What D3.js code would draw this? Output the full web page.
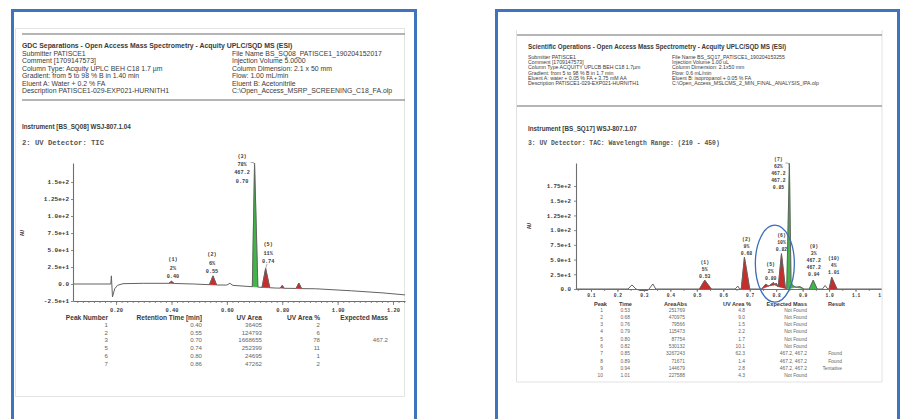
<!DOCTYPE html>
<html>
<head>
<meta charset="utf-8">
<script src="https://cdn.jsdelivr.net/npm/d3@7/dist/d3.min.js"></script>
<style>
  html, body { margin: 0; padding: 0; background: #ffffff; }
  svg { display: block; }
  .hdr  { font-family: "Liberation Sans", Arial, sans-serif; fill: #3a3a3a; }
  .bold { font-weight: bold; }
  .mono { font-family: "Liberation Mono", "Courier New", monospace; font-weight: bold; fill: #3a3a3a; }
  .tbl  { font-family: "Liberation Sans", Arial, sans-serif; fill: #666; }
  .tblh { font-family: "Liberation Sans", Arial, sans-serif; font-weight: bold; fill: #3a3a3a; }
</style>
</head>
<body>
<svg id="page" width="900" height="419"></svg>
<script>
// ===================== Report A : BS_SQ08, TIC =====================
const aTitle = "GDC Separations - Open Access Mass Spectrometry - Acquity UPLC/SQD MS (ESI)";
const aInfoLeft = [
  "Submitter PATISCE1",
  "Comment [1709147573]",
  "Column Type: Acquity UPLC BEH C18 1.7 \u00b5m",
  "Gradient: from 5 to 98 % B in 1.40 min",
  "Eluent A: Water + 0.2 % FA",
  "Description PATISCE1-029-EXP021-HURNITH1"
];
const aInfoRight = [
  "File Name BS_SQ08_PATISCE1_190204152017",
  "Injection Volume 5.0000",
  "Column Dimension: 2.1 x 50 mm",
  "Flow: 1.00 mL/min",
  "Eluent B: Acetonitrile",
  "C:\\Open_Access_MSRP_SCREENING_C18_FA.olp"
];
const aInstrument = "Instrument [BS_SQ08] WSJ-807.1.04";
const aDetector = "2: UV Detector: TIC";

// chromatogram trace (retention time [min], absorbance)
const aTraceTime = [0.044, 0.181, 0.183, 0.187, 0.195, 0.205, 0.225, 0.30, 0.39, 0.40, 0.41, 0.48,
                    0.537, 0.55, 0.563, 0.60, 0.611, 0.622, 0.692, 0.70, 0.712, 0.727, 0.74, 0.755,
                    0.78, 0.793, 0.80, 0.807, 0.85, 0.86, 0.87, 0.92, 1.05, 1.16, 1.243];
const aTraceAU   = [0, 0, 12, -19, -7, -2, 0.5, 1, 1, 4, 0.8, 0,
                    -1, 12, -1.5, -1.5, 1, -2, -4, 178, -4.5, -5, 23, -5.5,
                    -6, -6, -2, -6.3, -6.5, 1.5, -6.8, -7, -10, -13, -16];

// integrated peaks
const aPeakNumber = [1, 2, 3, 5, 6, 7];
const aPeakTime   = [0.40, 0.55, 0.70, 0.74, 0.80, 0.86];
const aPeakStart  = [0.39, 0.537, 0.692, 0.727, 0.793, 0.85];
const aPeakEnd    = [0.41, 0.563, 0.712, 0.755, 0.807, 0.87];
const aUVArea     = [36405, 124793, 1668655, 252399, 24695, 47262];
const aUVPct      = [2, 6, 78, 11, 1, 2];
const aExpMass    = ["", "", "467.2", "", "", ""];
const aLabelled   = [1, 2, 3, 5];

const aYTicks      = [-25, 0, 25, 50, 75, 100, 125, 150];
const aYTickLabels = ["-2.5e+1", "0.0", "2.5e+1", "5.0e+1", "7.5e+1", "1.0e+2", "1.25e+2", "1.5e+2"];
const aXTicks      = [0.2, 0.4, 0.6, 0.8, 1.0, 1.2];
const aXTickLabels = ["0.20", "0.40", "0.60", "0.80", "1.00", "1.20"];
const aTableHead   = ["Peak Number", "Retention Time [min]", "UV Area", "UV Area %", "Expected Mass"];

// ===================== Report B : BS_SQ17, TAC =====================
const bTitle = "Scientific Operations - Open Access Mass Spectrometry - Acquity UPLC/SQD MS (ESI)";
const bInfoLeft = [
  "Submitter PATISCE1",
  "Comment [1709147573]",
  "Column Type ACQUITY UPLCB BEH C18 1.7\u00b5m",
  "Gradient: from 5 to 98 % B in 1.7 min",
  "Eluent A: water + 0.05 % FA + 3.75 mM AA",
  "Description PATISCE1-029-EXP021-HURNITH1"
];
const bInfoRight = [
  "File Name BS_SQ17_PATISCE1_190204153255",
  "Injection Volume 1.00 uL",
  "Column Dimension: 2.1x50 mm",
  "Flow: 0.6 mL/min",
  "Eluent B: isopropanol + 0.05 % FA",
  "C:\\Open_Access_MSLCMS_2_MIN_FINAL_ANALYSIS_IPA.olp"
];
const bInstrument = "Instrument [BS_SQ17] WSJ-807.1.07";
const bDetector = "3: UV Detector: TAC: Wavelength Range: (210 - 450)";

const bTraceTime = [0.043, 0.24, 0.255, 0.27, 0.285, 0.315, 0.334, 0.345, 0.51, 0.53, 0.555,
                    0.645, 0.655, 0.662, 0.668, 0.68, 0.70, 0.745, 0.76, 0.772, 0.79, 0.795, 0.80,
                    0.808, 0.82, 0.835, 0.84, 0.85, 0.856, 0.862, 0.875, 0.89, 0.905, 0.925, 0.94,
                    0.955, 0.975, 0.985, 0.995, 1.0, 1.01, 1.03, 1.2];
const bTraceAU   = [0, 0, 7, 0, -2.5, -2.5, 8.5, 0, 0, 15, 0,
                    0, 5, 0, 0, 54, 0, 0, 8, 5, 11, 7, 10,
                    4, 60, 1, 0, 213, 12, 6, 3, 4, 0, 0, 15,
                    0, 0, 6, 0, 0, 20, 0, 0];

const bPeakNumber = [1, 2, 3, 4, 5, 6, 7, 8, 9, 10];
const bPeakTime   = [0.53, 0.68, 0.76, 0.79, 0.80, 0.82, 0.85, 0.89, 0.94, 1.01];
const bPeakStart  = [0.51, 0.668, 0.745, 0.772, 0.795, 0.808, 0.84, 0.875, 0.925, 1.0];
const bPeakEnd    = [0.555, 0.70, 0.772, 0.795, 0.808, 0.835, 0.875, 0.905, 0.955, 1.03];
const bAreaAbs    = [251769, 470975, 79566, 115473, 87754, 530132, 3267243, 71671, 144679, 227588];
const bUVPct      = [4.8, 9.0, 1.5, 2.2, 1.7, 10.1, 62.3, 1.4, 2.8, 4.3];
const bExpMass    = ["Not Found", "Not Found", "Not Found", "Not Found", "Not Found", "Not Found",
                     "467.2, 467.2", "467.2, 467.2", "467.2, 467.2", "Not Found"];
const bResult     = ["", "", "", "", "", "", "Found", "Found", "Tentative", ""];
const bLabelled   = [1, 2, 5, 6, 7, 9, 10];

const bYTicks      = [0, 25, 50, 75, 100, 125, 150, 175];
const bYTickLabels = ["0.0", "2.5e+1", "5.0e+1", "7.5e+1", "1.0e+2", "1.25e+2", "1.5e+2", "1.75e+2"];
const bXTicks      = [0.1, 0.2, 0.3, 0.4, 0.5, 0.6, 0.7, 0.8, 0.9, 1.0, 1.1, 1.2];
const bXTickLabels = ["0.1", "0.2", "0.3", "0.4", "0.5", "0.6", "0.7", "0.8", "0.9", "1.0", "1.1", "1.2"];
const bTableHead   = ["Peak", "Time", "AreaAbs", "UV Area %", "Expected Mass", "Result"];

// ===================== drawing =====================
const FRAME = "#3d74bd", RULE = "#9c9c9c", AXIS = "#6f6f6f", TRACE = "#626262";
const RED = "#c62d2b", GREEN = "#42b549";

const svg = d3.select("#page");
const defs = svg.append("defs");
defs.append("clipPath").attr("id", "clipB").append("rect")
  .attr("x", 498).attr("y", 0).attr("width", 398).attr("height", 419);
defs.append("clipPath").attr("id", "clipBPlot").append("rect")
  .attr("x", 500).attr("y", 140).attr("width", 381.5).attr("height", 170);

function panelFrame(x0, x1) {
  svg.append("rect").attr("x", x0).attr("y", 10.5)
    .attr("width", x1 - x0).attr("height", 430)
    .attr("fill", "none").attr("stroke", FRAME).attr("stroke-width", 3);
}

function header(g, o) {
  g.append("line").attr("x1", o.x0).attr("x2", o.x1).attr("y1", o.ruleTop).attr("y2", o.ruleTop)
    .attr("stroke", RULE).attr("stroke-width", 1.4);
  g.append("line").attr("x1", o.x0).attr("x2", o.x1).attr("y1", o.ruleBottom).attr("y2", o.ruleBottom)
    .attr("stroke", RULE).attr("stroke-width", 1.4);
  g.append("text").attr("class", "hdr bold").attr("x", o.tx).attr("y", o.titleY)
    .attr("dominant-baseline", "central").style("font-size", o.titleSize + "px").text(o.title);
  [[o.left, o.tx], [o.right, o.tx2]].forEach(([rows, xx]) => {
    g.selectAll(null).data(rows).enter().append("text")
      .attr("class", "hdr").attr("x", xx).attr("y", (d, i) => o.lineY0 + i * o.lineDy)
      .attr("dominant-baseline", "central").style("font-size", o.lineSize + "px")
      .text(d => d);
  });
  g.append("text").attr("class", "hdr bold").attr("x", o.tx).attr("y", o.instY)
    .attr("dominant-baseline", "central").style("font-size", o.instSize + "px").text(o.instrument);
  g.append("text").attr("class", "mono").attr("x", o.tx).attr("y", o.detY)
    .attr("dominant-baseline", "central").style("font-size", o.detSize + "px")
    .style("fill", "#555").text(o.detector);
}

function chromatogram(g, d) {
  const x = d3.scaleLinear().domain(d.xDomain).range(d.xRange);
  const y = d3.scaleLinear().domain(d.yDomain).range(d.yRange);
  const pts = d.time.map((t, i) => [t, d.au[i]]);
  const line = d3.line().x(p => x(p[0])).y(p => y(p[1]));
  const plot = g.append("g").attr("clip-path", d.clip ? `url(#${d.clip})` : null);

  // filled integration areas
  d.peakNumber.forEach((n, i) => {
    const seg = pts.filter(p => p[0] >= d.start[i] - 1e-9 && p[0] <= d.end[i] + 1e-9);
    plot.append("path").attr("d", line(seg) + "Z")
      .attr("fill", d.found[i] ? GREEN : RED)
      .attr("stroke", d.found[i] ? GREEN : RED).attr("stroke-width", 0.6);
  });
  plot.append("path").attr("d", line(pts)).attr("fill", "none")
    .attr("stroke", TRACE).attr("stroke-width", 1);

  // axes
  const yAxis = g.append("g").attr("transform", `translate(${d.xRange[0]},0)`)
    .call(d3.axisLeft(y).tickValues(d.yTicks).tickFormat((v, i) => d.yTickLabels[i])
      .tickSize(2).tickSizeOuter(0).tickPadding(d.yPad));
  const xMinor = plot.append("g").attr("transform", `translate(0,${d.yRange[0]})`)
    .call(d3.axisBottom(x).tickValues(d.minor).tickFormat("").tickSize(2).tickSizeOuter(0));
  xMinor.select(".domain").remove();
  const xAxis = plot.append("g").attr("transform", `translate(0,${d.yRange[0]})`)
    .call(d3.axisBottom(x).tickValues(d.xTicks).tickFormat((v, i) => d.xTickLabels[i])
      .tickSize(d.majorLen).tickSizeOuter(0).tickPadding(d.xPad));
  [yAxis, xAxis, xMinor].forEach(a => {
    a.select(".domain").attr("stroke", AXIS).attr("stroke-width", 1.1);
    a.selectAll(".tick line").attr("stroke", AXIS).attr("stroke-width", 0.8);
  });
  yAxis.selectAll(".tick text").attr("class", "mono").style("font-size", d.yFont + "px");
  xAxis.selectAll(".tick text").attr("class", "mono").style("font-size", d.xFont + "px");
  g.append("text").attr("class", "mono")
    .attr("transform", `translate(${d.auX},${d.auY}) rotate(-90)`)
    .attr("text-anchor", "middle").attr("dominant-baseline", "central")
    .style("font-size", "5px").text("AU");

  // peak annotations
  d.labelled.forEach(n => {
    const i = d.peakNumber.indexOf(n);
    const t = d.peakTime[i];
    const apex = d.au[d.time.indexOf(t)];
    const masses = d.mass[i] && d.mass[i] !== "Not Found" ? d.mass[i].split(", ") : [];
    const lines = [`(${n})`, Math.round(d.pct[i]) + "%", ...masses, t.toFixed(2)];
    const lay = d.layout[n];
    const cx = x(t) + lay.dx;
    const ay = y(apex);
    const top = lay.beside ? ay + lay.top : ay - lay.gap - (lines.length - 1) * d.labelDy;
    g.selectAll(null).data(lines).enter().append("text").attr("class", "mono")
      .attr("x", cx).attr("y", (s, k) => top + k * d.labelDy)
      .attr("text-anchor", "middle").attr("dominant-baseline", "central")
      .style("font-size", d.labelFont + "px").text(s => s);
    if (lay.beside) {
      g.append("path").attr("fill", "none").attr("stroke", "#888").attr("stroke-width", 0.7)
        .attr("d", `M${x(t)},${ay + 2}L${x(t) - 1},${ay - 0.5}L${x(t) - 4},${ay - 0.5}`);
    } else if (lay.leader) {
      g.append("line").attr("stroke", "#888").attr("stroke-width", 0.7)
        .attr("x1", x(t)).attr("y1", ay).attr("x2", x(t) + lay.dx - 1).attr("y2", ay - lay.gap + 2);
    }
  });
  return { x, y };
}

function table(g, heads, cols, o) {
  heads.forEach((h, c) => {
    g.append("text").attr("class", "tblh").attr("x", o.headRight[c]).attr("y", o.headY)
      .attr("text-anchor", "end").attr("dominant-baseline", "central")
      .style("font-size", o.headSize + "px").text(h);
    g.selectAll(null).data(cols[c]).enter().append("text").attr("class", "tbl")
      .attr("x", o.right[c]).attr("y", (v, r) => o.rowY0 + r * o.rowDy)
      .attr("text-anchor", "end").attr("dominant-baseline", "central")
      .style("font-size", o.rowSize + "px").text(v => v);
  });
}

// ---------- panel A ----------
panelFrame(12.5, 415.5);
const gA = svg.append("g");
gA.append("rect").attr("x", 15.5).attr("y", 28.5).attr("width", 389).attr("height", 368)
  .attr("fill", "none").attr("stroke", "#e4e4e4").attr("stroke-width", 1);
header(gA, {
  x0: 22, x1: 405, ruleTop: 34, ruleBottom: 100,
  tx: 22, tx2: 232, title: aTitle, titleY: 45, titleSize: 6.9,
  left: aInfoLeft, right: aInfoRight, lineY0: 53, lineDy: 7.5, lineSize: 6.9,
  instrument: aInstrument, instY: 126, instSize: 6.3,
  detector: aDetector, detY: 143, detSize: 7.2
});
chromatogram(gA, {
  time: aTraceTime, au: aTraceAU,
  xDomain: [0.0444, 1.2433], xRange: [73, 405],
  yDomain: [-25, 178], yRange: [301, 163],
  peakNumber: aPeakNumber, peakTime: aPeakTime, start: aPeakStart, end: aPeakEnd,
  found: aExpMass.map(m => m !== ""), pct: aUVPct, mass: aExpMass, labelled: aLabelled,
  yTicks: aYTicks, yTickLabels: aYTickLabels, xTicks: aXTicks, xTickLabels: aXTickLabels,
  minor: d3.range(0.06, 1.241, 0.02), majorLen: 4, xPad: 3, yPad: 2,
  yFont: 6, xFont: 5.4, labelFont: 5.2, labelDy: 8.2,
  auX: 23, auY: 233,
  layout: { 1: { dx: 1.5, gap: 4.5 }, 2: { dx: -1, gap: 4 }, 3: { dx: -12.5, beside: true, top: -6 },
            5: { dx: 2.5, gap: 6.5, leader: true } }
});
table(gA, aTableHead, [
  aPeakNumber, aPeakTime.map(t => t.toFixed(2)), aUVArea, aUVPct, aExpMass
], {
  headRight: [108, 202, 262, 320, 388], right: [108, 202, 262, 320, 388],
  headY: 317, headSize: 6.6, rowY0: 324.5, rowDy: 7.7, rowSize: 6.1
});

// ---------- panel B ----------
panelFrame(496.5, 898.5);
const gB = svg.append("g").attr("clip-path", "url(#clipB)");
gB.append("line").attr("x1", 516.5).attr("x2", 516.5).attr("y1", 30).attr("y2", 382)
  .attr("stroke", "#e2e2e2");
gB.append("line").attr("x1", 882).attr("x2", 882).attr("y1", 30).attr("y2", 382)
  .attr("stroke", "#e2e2e2");
gB.append("line").attr("x1", 516.5).attr("x2", 882).attr("y1", 382).attr("y2", 382)
  .attr("stroke", "#e2e2e2");
header(gB, {
  x0: 517, x1: 882, ruleTop: 35, ruleBottom: 106,
  tx: 528, tx2: 672, title: bTitle, titleY: 46, titleSize: 6.3,
  left: bInfoLeft, right: bInfoRight, lineY0: 57, lineDy: 5.2, lineSize: 5.2,
  instrument: bInstrument, instY: 128, instSize: 6.3,
  detector: bDetector, detY: 143, detSize: 6.4
});
const sB = chromatogram(gB, {
  time: bTraceTime, au: bTraceAU, clip: "clipBPlot",
  xDomain: [0.0434, 1.2], xRange: [576, 882],
  yDomain: [0, 214], yRange: [289, 163],
  peakNumber: bPeakNumber, peakTime: bPeakTime, start: bPeakStart, end: bPeakEnd,
  found: bResult.map(r => r !== ""), pct: bUVPct, mass: bExpMass, labelled: bLabelled,
  yTicks: bYTicks, yTickLabels: bYTickLabels, xTicks: bXTicks, xTickLabels: bXTickLabels,
  minor: d3.range(0.05, 1.2, 0.05), majorLen: 3, xPad: 2, yPad: 3,
  yFont: 5.8, xFont: 4.6, labelFont: 4.8, labelDy: 7,
  auX: 530, auY: 226,
  layout: { 1: { dx: 0, gap: 4 }, 2: { dx: 2, gap: 4 }, 5: { dx: -5.5, gap: 5 }, 6: { dx: 0, gap: 4.5 },
            7: { dx: -11, beside: true, top: -4.5 }, 9: { dx: 0.5, gap: 6 }, 10: { dx: 2, gap: 5 } }
});
// highlight around the co-eluting peaks 3-6
gB.append("ellipse")
  .attr("cx", sB.x(0.795)).attr("cy", sB.y(43))
  .attr("rx", 19.5).attr("ry", 38.5)
  .attr("fill", "none").attr("stroke", "#3a6fba").attr("stroke-width", 1.3);
table(gB, bTableHead, [
  bPeakNumber, bPeakTime.map(t => t.toFixed(2)), bAreaAbs, bUVPct.map(p => p.toFixed(1)), bExpMass, bResult
], {
  headRight: [607, 632, 687, 751, 807, 845], right: [603, 630, 685, 745, 807, 842],
  headY: 304, headSize: 5.6, rowY0: 310, rowDy: 7.3, rowSize: 4.9
});
</script>
</body>
</html>
